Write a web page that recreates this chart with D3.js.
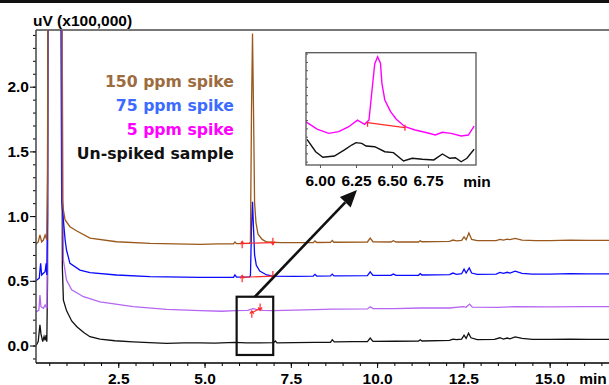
<!DOCTYPE html>
<html>
<head>
<meta charset="utf-8">
<script src="https://cdn.jsdelivr.net/npm/d3@7/dist/d3.min.js"></script>
<style>
body { margin: 0; background: #fff; }
svg { display: block; }
.lbl { font-family: "Liberation Sans", Arial, sans-serif; font-weight: bold; font-size: 15.5px; }
.legend { font-family: "DejaVu Sans", sans-serif; font-weight: bold; font-size: 15.7px; }
</style>
</head>
<body>
<svg width="609" height="385"></svg>
<script>
// chromatograms, [time (min), signal (uV x100,000)]
var blank = [[0.12,0.0],[0.18,0.03],[0.23,0.16],[0.26,0.09],[0.31,0.03],[0.35,0.07],[0.38,0.04],[0.41,0.08],[0.43,0.03],[0.45,0.5],[0.47,5],[0.85,5],[0.88,0.6],[0.91,0.35],[1.0,0.27],[1.15,0.19],[1.3,0.145],[1.5,0.1],[1.68,0.068],[1.97,0.05],[2.4,0.037],[2.93,0.029],[3.4,0.022],[3.9,0.017],[4.4,0.02],[4.87,0.02],[5.3,0.018],[5.88,0.025],[6.2,0.02],[6.6,0.02],[7.0,0.022],[7.05,0.035],[7.1,0.02],[7.6,0.022],[8.2,0.025],[8.65,0.025],[8.7,0.045],[8.76,0.028],[9.3,0.03],[9.72,0.03],[9.8,0.058],[9.88,0.032],[10.5,0.033],[11.2,0.035],[11.25,0.045],[11.3,0.035],[12.1,0.04],[12.2,0.05],[12.3,0.045],[12.45,0.05],[12.52,0.08],[12.58,0.055],[12.65,0.095],[12.72,0.06],[12.9,0.045],[13.4,0.048],[13.56,0.06],[13.66,0.05],[13.77,0.058],[13.85,0.052],[14.0,0.066],[14.2,0.055],[14.5,0.048],[15.0,0.047],[15.6,0.05],[16.1,0.048],[16.72,0.048]];

var spike5 = [[0.12,0.26],[0.2,0.274],[0.23,0.39],[0.26,0.30],[0.33,0.287],[0.38,0.313],[0.43,0.287],[0.45,0.8],[0.47,5],[0.82,5],[0.91,0.66],[1.0,0.506],[1.15,0.43],[1.49,0.377],[1.97,0.338],[2.93,0.30],[3.9,0.28],[4.87,0.269],[5.5,0.265],[5.88,0.27],[6.25,0.272],[6.4,0.285],[6.5,0.28],[6.7,0.272],[7.0,0.27],[7.6,0.274],[8.2,0.278],[8.7,0.282],[9.72,0.283],[9.8,0.3],[9.88,0.285],[10.5,0.285],[11.25,0.29],[12.1,0.29],[12.5,0.3],[12.58,0.295],[12.68,0.32],[12.76,0.297],[13.5,0.295],[14.0,0.3],[15.0,0.298],[16.0,0.3],[16.72,0.3]];

var spike75 = [[0.12,0.5],[0.14,0.506],[0.21,0.52],[0.25,0.635],[0.28,0.545],[0.33,0.558],[0.38,0.57],[0.41,0.635],[0.43,0.545],[0.45,1.0],[0.47,5],[0.8,5],[0.86,1.12],[0.96,0.815],[1.0,0.738],[1.1,0.635],[1.39,0.583],[1.68,0.563],[2.45,0.545],[3.42,0.532],[4.87,0.527],[5.3,0.527],[5.84,0.527],[5.88,0.545],[5.93,0.528],[6.3,0.53],[6.33,0.54],[6.36,0.9],[6.39,1.11],[6.42,0.9],[6.45,0.70],[6.5,0.62],[6.6,0.575],[6.8,0.545],[7.0,0.537],[7.6,0.535],[8.15,0.537],[8.2,0.55],[8.25,0.537],[8.65,0.538],[8.7,0.552],[8.75,0.538],[9.72,0.54],[9.8,0.57],[9.88,0.542],[10.4,0.542],[10.47,0.552],[10.55,0.542],[11.2,0.543],[11.25,0.555],[11.3,0.545],[12.1,0.548],[12.2,0.56],[12.3,0.55],[12.45,0.555],[12.52,0.59],[12.58,0.56],[12.67,0.6],[12.74,0.56],[12.9,0.55],[13.45,0.552],[13.56,0.565],[13.66,0.558],[13.77,0.566],[13.85,0.56],[14.0,0.574],[14.2,0.558],[14.5,0.552],[15.0,0.552],[15.6,0.556],[16.1,0.553],[16.72,0.553]];

var spike150 = [[0.12,0.78],[0.14,0.79],[0.18,0.80],[0.23,0.854],[0.28,0.80],[0.33,0.815],[0.38,0.854],[0.43,0.815],[0.45,1.3],[0.47,5],[0.84,5],[0.88,1.124],[0.91,1.047],[0.96,0.97],[1.1,0.918],[1.3,0.885],[1.68,0.83],[2.45,0.802],[3.42,0.79],[4.87,0.782],[5.4,0.785],[5.84,0.786],[5.88,0.8],[5.93,0.787],[6.3,0.79],[6.33,0.8],[6.36,1.8],[6.39,2.41],[6.42,1.8],[6.45,1.1],[6.49,0.95],[6.55,0.86],[6.67,0.82],[6.8,0.80],[7.2,0.795],[8.15,0.795],[8.2,0.808],[8.25,0.796],[8.65,0.797],[8.7,0.812],[8.75,0.798],[9.72,0.8],[9.8,0.83],[9.88,0.802],[10.4,0.8],[10.47,0.81],[10.55,0.8],[11.2,0.8],[11.25,0.81],[11.3,0.802],[12.1,0.805],[12.2,0.815],[12.3,0.808],[12.45,0.812],[12.52,0.84],[12.58,0.818],[12.66,0.87],[12.74,0.82],[12.9,0.81],[13.45,0.81],[13.56,0.82],[13.66,0.814],[13.77,0.822],[13.85,0.818],[14.0,0.828],[14.2,0.815],[14.6,0.81],[15.0,0.81],[15.6,0.815],[16.1,0.812],[16.72,0.812]];

var seriesNames = ["Un-spiked sample", "5 ppm spike", "75 ppm spike", "150 ppm spike"];
var lineColors = ["#111111", "#b566f2", "#0a0aff", "#9a581c"];
var textColors = ["#111111", "#ff00ff", "#3d6bff", "#9c6b3e"];

// integration baselines drawn by the software [start, end]
var integrations = [
  [[6.09, 0.79], [6.98, 0.795]],
  [[6.09, 0.527], [6.98, 0.537]],
  [[6.37, 0.253], [6.61, 0.287]]
];

// zoomed view 5.9 - 7.1 min (relative units)
var insetSpike5 = [[5.90,3.86],[5.98,3.2],[6.06,2.82],[6.13,2.97],[6.20,3.41],[6.26,4.0],[6.31,3.62],[6.34,4.0],[6.36,6.5],[6.38,9.0],[6.40,9.64],[6.42,9.06],[6.43,7.27],[6.45,5.79],[6.49,4.75],[6.53,4.07],[6.59,3.41],[6.66,3.12],[6.75,2.85],[6.80,2.67],[6.85,2.91],[6.91,2.82],[6.98,2.58],[7.03,2.67],[7.07,3.47]];
var insetBlank = [[5.91,2.29],[5.97,1.18],[6.02,0.69],[6.10,0.80],[6.17,1.34],[6.22,1.78],[6.25,1.99],[6.29,1.93],[6.32,1.69],[6.38,1.63],[6.45,1.18],[6.51,1.10],[6.58,0.36],[6.64,0.60],[6.71,0.51],[6.79,0.45],[6.85,0.98],[6.90,0.60],[6.94,0.65],[6.98,0.29],[7.02,0.60],[7.07,1.40]];
var insetIntegration = [[6.33, 3.77], [6.59, 3.32]];
var insetTicks = [6.00, 6.25, 6.50, 6.75];

var svg = d3.select("svg");

var x = d3.scaleLinear().domain([0.116, 16.72]).range([36, 609]);
var y = d3.scaleLinear().domain([-0.135, 2.438]).range([363, 30]);

var line = d3.line()
  .x(function(d) { return x(d[0]); })
  .y(function(d) { return y(d[1]); });

// frame
svg.append("rect").attr("x", 0).attr("y", 0).attr("width", 609).attr("height", 3).attr("fill", "#111");
svg.append("line").attr("x1", 36).attr("x2", 609).attr("y1", 30).attr("y2", 30)
  .attr("stroke", "#777").attr("stroke-width", 2);

svg.append("clipPath").attr("id", "plot")
  .append("rect").attr("x", 36).attr("y", 30).attr("width", 573).attr("height", 333);

var traces = svg.append("g").attr("clip-path", "url(#plot)");
[blank, spike5, spike75, spike150].forEach(function(s, i) {
  traces.append("path")
    .datum(s)
    .attr("fill", "none")
    .attr("stroke", lineColors[i])
    .attr("stroke-width", 1.3)
    .attr("d", line);
});

// integration marks
var marks = traces.append("g").attr("stroke", "#ff2a2a").attr("stroke-width", 1.2).attr("fill", "none");
integrations.forEach(function(p) {
  marks.append("line")
    .attr("x1", x(p[0][0])).attr("y1", y(p[0][1]))
    .attr("x2", x(p[1][0])).attr("y2", y(p[1][1]));
  p.forEach(function(q, j) {
    var px = x(q[0]), py = y(q[1]);
    marks.append("path")
      .attr("d", j === 0
        ? "M" + px + "," + (py + 5) + "V" + (py - 2) + "M" + (px - 2) + "," + (py + 1) + "L" + px + "," + (py - 2) + "L" + (px + 2) + "," + (py + 1)
        : "M" + px + "," + (py - 5) + "V" + (py + 2) + "M" + (px - 2) + "," + (py - 1) + "L" + px + "," + (py + 2) + "L" + (px + 2) + "," + (py - 1));
  });
});

// axes
var yMinor = svg.append("g").attr("transform", "translate(36,0)")
  .call(d3.axisLeft(y).tickValues(d3.range(-0.1, 2.41, 0.1)).tickSize(3).tickFormat(""));
var yMajor = svg.append("g").attr("class", "lbl").attr("transform", "translate(36,0)")
  .call(d3.axisLeft(y).tickValues([0, 0.5, 1, 1.5, 2]).tickSize(6).tickPadding(1).tickFormat(d3.format(".1f")));
var xMinor = svg.append("g").attr("transform", "translate(0,363)")
  .call(d3.axisBottom(x).tickValues(d3.range(0.5, 16.6, 0.5)).tickSize(3).tickFormat(""));
var xMajor = svg.append("g").attr("class", "lbl").attr("transform", "translate(0,363)")
  .call(d3.axisBottom(x).tickValues([2.5, 5, 7.5, 10, 12.5, 15]).tickSize(5).tickPadding(4.5).tickFormat(d3.format(".1f")));
[yMinor, yMajor, xMinor, xMajor].forEach(function(g) {
  g.select(".domain").remove();
  g.attr("font-family", null).attr("font-size", null);
  g.selectAll("text").attr("fill", "#000");
});
svg.append("line").attr("x1", 36).attr("x2", 36).attr("y1", 30).attr("y2", 363).attr("stroke", "#444").attr("stroke-width", 1.5);
svg.append("line").attr("x1", 36).attr("x2", 609).attr("y1", 363).attr("y2", 363).attr("stroke", "#000").attr("stroke-width", 1.5);

svg.append("text").attr("class", "lbl").attr("x", 593).attr("y", 383.5).attr("text-anchor", "middle").text("min");
svg.append("text").attr("class", "lbl").attr("x", 33).attr("y", 26).text("uV (x100,000)");

// legend, top row = 150 ppm
var legendOrder = [3, 2, 1, 0];
svg.append("g").selectAll("text")
  .data(legendOrder)
  .enter().append("text")
  .attr("class", "legend")
  .attr("x", 234)
  .attr("y", function(d, i) { return 87.3 + i * 24; })
  .attr("text-anchor", "end")
  .attr("fill", function(d) { return textColors[d]; })
  .text(function(d) { return seriesNames[d]; });

// zoom window and arrow
var win = { t0: 5.93, t1: 6.99, v0: -0.073, v1: 0.377 };
svg.append("rect")
  .attr("x", x(win.t0)).attr("y", y(win.v1))
  .attr("width", x(win.t1) - x(win.t0)).attr("height", y(win.v0) - y(win.v1))
  .attr("fill", "none").attr("stroke", "#111").attr("stroke-width", 2.2);

var a0 = [x(6.46), y(win.v1)], a1 = [357, 190];
var dx = a1[0] - a0[0], dy = a1[1] - a0[1], len = Math.sqrt(dx * dx + dy * dy);
var ux = dx / len, uy = dy / len, hl = 17, hw = 7.5;
svg.append("line").attr("x1", a0[0]).attr("y1", a0[1])
  .attr("x2", a1[0] - ux * hl).attr("y2", a1[1] - uy * hl)
  .attr("stroke", "#111").attr("stroke-width", 2.6);
svg.append("path")
  .attr("d", "M" + a1[0] + "," + a1[1] +
    "L" + (a1[0] - ux * hl - uy * hw) + "," + (a1[1] - uy * hl + ux * hw) +
    "L" + (a1[0] - ux * hl + uy * hw) + "," + (a1[1] - uy * hl - ux * hw) + "Z")
  .attr("fill", "#111");

// inset
var ix = d3.scaleLinear().domain([5.903, 7.083]).range([306, 476]);
var iy = d3.scaleLinear().domain([0, 10]).range([165, 52.7]);
var iline = d3.line()
  .x(function(d) { return ix(d[0]); })
  .y(function(d) { return iy(d[1]); });

svg.append("rect").attr("x", 306).attr("y", 52.7).attr("width", 170).attr("height", 112.3).attr("fill", "#fff");
svg.append("clipPath").attr("id", "inset")
  .append("rect").attr("x", 306).attr("y", 52.7).attr("width", 170).attr("height", 112.3);
var ig = svg.append("g").attr("clip-path", "url(#inset)");
ig.append("path").datum(insetBlank).attr("fill", "none").attr("stroke", "#111").attr("stroke-width", 1.4).attr("d", iline);
ig.append("path").datum(insetSpike5).attr("fill", "none").attr("stroke", "#ff00ff").attr("stroke-width", 1.4).attr("d", iline);
ig.append("line")
  .attr("x1", ix(insetIntegration[0][0])).attr("y1", iy(insetIntegration[0][1]))
  .attr("x2", ix(insetIntegration[1][0])).attr("y2", iy(insetIntegration[1][1]))
  .attr("stroke", "#ff2a2a").attr("stroke-width", 1.3);
insetIntegration.forEach(function(q, j) {
  ig.append("line")
    .attr("x1", ix(q[0])).attr("x2", ix(q[0]))
    .attr("y1", iy(q[1]) - (j ? 3 : 1)).attr("y2", iy(q[1]) + (j ? 3 : 4))
    .attr("stroke", "#ff2a2a").attr("stroke-width", 1.3);
});

var iyAxis = svg.append("g").attr("transform", "translate(306,0)")
  .call(d3.axisRight(iy).tickValues(d3.range(0.3, 10, 0.74)).tickSize(2).tickFormat(""));
var ixAxis = svg.append("g").attr("class", "lbl").attr("transform", "translate(0,165)")
  .call(d3.axisBottom(ix).tickValues(insetTicks).tickSize(3).tickPadding(7).tickFormat(d3.format(".2f")));
[iyAxis, ixAxis].forEach(function(g) {
  g.select(".domain").remove();
  g.attr("font-family", null).attr("font-size", null);
  g.selectAll("line").attr("stroke", "#555");
  g.selectAll("text").attr("fill", "#000");
});
svg.append("rect").attr("x", 306).attr("y", 52.7).attr("width", 170).attr("height", 112.3)
  .attr("fill", "none").attr("stroke", "#555").attr("stroke-width", 1.3);
svg.append("text").attr("class", "lbl").attr("x", 477).attr("y", 186.5).attr("text-anchor", "middle").text("min");
</script>
</body>
</html>
